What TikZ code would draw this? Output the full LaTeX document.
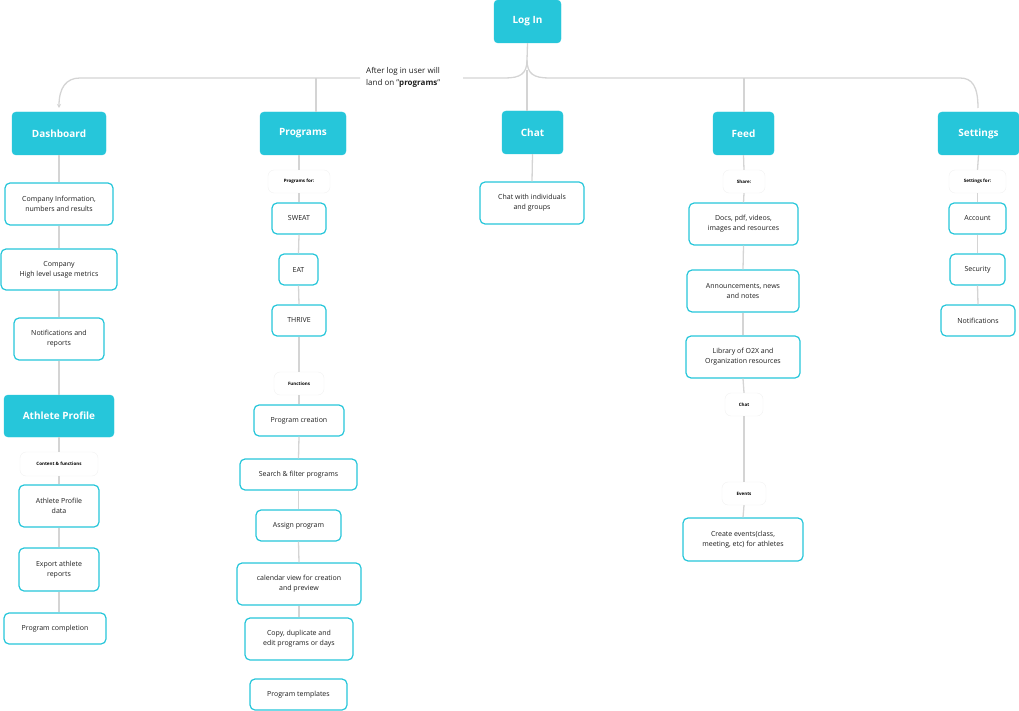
\documentclass[tikz,border=0pt]{standalone}
\usepackage{fontspec}
\setmainfont{Open Sans}
\usetikzlibrary{arrows.meta}
\definecolor{cy}{HTML}{26C6DA}
\definecolor{ln}{HTML}{D4D4D4}
\definecolor{tx}{HTML}{1E1E1E}
\begin{document}
\begin{tikzpicture}[x=1pt,y=-1pt,
  main/.style={fill=cy,draw=cy,rounded corners=4pt,text=white,font=\bfseries\fontsize{10}{12}\selectfont,inner sep=0pt,align=center},
  box/.style={fill=white,draw=cy,line width=1.2pt,rounded corners=5pt,text=tx,font=\fontsize{7}{10}\selectfont,inner sep=0pt,align=center},
  pill/.style={fill=white,draw=black!5,rounded corners=6pt,text=black,font=\bfseries\fontsize{4.5}{6}\selectfont,inner sep=0pt,align=center},
  conn/.style={draw=ln,line width=1.3pt}]
\useasboundingbox (0,0) rectangle (1019,711);
\newcommand{\bx}[7]{\node[#1,minimum width={#4-#3},minimum height={#6-#5}] (#2) at ({(#3+#4)/2},{(#5+#6)/2}) {#7};}
% top
\bx{main}{login}{494}{561}{0}{43}{Log In}
\bx{main}{dash}{12}{106}{112}{155}{Dashboard}
\bx{main}{prog}{260}{346}{112}{155}{Programs}
\bx{main}{chat}{502}{563}{111}{154}{Chat}
\bx{main}{feed}{713}{774}{112}{155}{Feed}
\bx{main}{sett}{938}{1019}{112}{155}{Settings}
\coordinate (lj) at (527,60);
\coordinate (ch) at (527,70);
\coordinate (pj) at (316,78);
\coordinate (fj) at (744,78);
\draw[conn] (login.south) -- (lj);
\draw[conn] (lj) .. controls (527,74) and (520,78) .. (505,78) -- (463,78);
\draw[conn] (lj) .. controls (527,74) and (534,78) .. (549,78) -- (960,78) .. controls (972,78) and (978,86) .. (978,108);
\draw[conn,-{Stealth[length=4pt,width=4pt]}] (360,78) -- (80,78) .. controls (66,78) and (59,88) .. (59,108);
\draw[conn] (ch) -- (ch |- chat.north);
\draw[conn] (pj) -- (pj |- prog.north);
\draw[conn] (fj) -- (fj |- feed.north);
\node[text=tx,font=\fontsize{8}{12}\selectfont,align=left,anchor=west,inner sep=0pt] (note) at (366,77) {After log in user will\\land on "\textbf{programs}"};
% dashboard column
\bx{box}{d1}{5}{113}{183}{225}{Company Information,\\numbers and results}
\bx{box}{d2}{1}{117}{249}{290}{Company\\High level usage metrics}
\bx{box}{d3}{14}{104}{318}{360}{Notifications and\\reports}
\bx{main}{ap}{4}{114}{395}{437}{Athlete Profile}
\bx{pill}{dp}{20}{98}{452}{476}{Content \& functions}
\bx{box}{d4}{19}{99}{485}{527}{Athlete Profile\\data}
\bx{box}{d5}{19}{99}{548}{591}{Export athlete\\reports}
\bx{box}{d6}{4}{106}{613}{644}{Program completion}
\foreach \a/\b in {dash/d1,d1/d2,d2/d3,d3/ap,ap/dp,dp/d4,d4/d5}{\draw[conn] (\a.south) -- (\b.north);}
\draw[conn] (d5.south) -- (d5.south |- d6.north);
% programs column
\bx{pill}{pp}{268}{330}{170}{193}{Programs for:}
\bx{box}{p1}{272}{326}{203}{234}{SWEAT}
\bx{box}{p2}{279}{318}{254}{285}{EAT}
\bx{box}{p3}{272}{326}{305}{336}{THRIVE}
\bx{pill}{pf}{274}{324}{372}{395}{Functions}
\bx{box}{p4}{254}{344}{405}{436}{Program creation}
\bx{box}{p5}{240}{357}{459}{490}{Search \& filter programs}
\bx{box}{p6}{256}{341}{510}{541}{Assign program}
\bx{box}{p7}{237}{361}{563}{605}{calendar view for creation\\and preview}
\bx{box}{p8}{245}{353}{618}{660}{Copy, duplicate and\\edit programs or days}
\bx{box}{p9}{250}{347}{679}{710}{Program templates}
\draw[conn] (pp.north |- prog.south) -- (pp.north);
\foreach \a/\b in {pp/p1,p1/p2,p2/p3,p3/pf,pf/p4,p4/p5,p5/p6,p6/p7,p7/p8}{\draw[conn] (\a.south) -- (\b.north);}
% chat
\bx{box}{c1}{480}{584}{182}{224}{Chat with individuals\\and groups}
\draw[conn] (chat.south) -- (c1.north);
% feed
\bx{pill}{fp}{723}{765}{170}{193}{Share:}
\bx{box}{f1}{689}{798}{203}{245}{Docs, pdf, videos,\\images and resources}
\bx{box}{f2}{687}{799}{270}{312}{Announcements, news\\and notes}
\bx{box}{f3}{686}{800}{336}{378}{Library of O2X and\\Organization resources}
\bx{pill}{fc}{725}{763}{393}{416}{Chat}
\bx{pill}{fe}{722}{766}{482}{505}{Events}
\bx{box}{f4}{683}{803}{518}{561}{Create events(class,\\meeting, etc) for athletes}
\foreach \a/\b in {feed/fp,fp/f1,f1/f2,f2/f3,f3/fc,fc/fe,fe/f4}{\draw[conn] (\a.south) -- (\b.north);}
% settings
\bx{pill}{sp}{949}{1006}{170}{193}{Settings for:}
\bx{box}{s1}{949}{1006}{203}{234}{Account}
\bx{box}{s2}{950}{1005}{254}{285}{Security}
\bx{box}{s3}{941}{1015}{305}{336}{Notifications}
\foreach \a/\b in {sett/sp,sp/s1,s1/s2,s2/s3}{\draw[conn] (\a.south) -- (\b.north);}
\end{tikzpicture}
\end{document}
